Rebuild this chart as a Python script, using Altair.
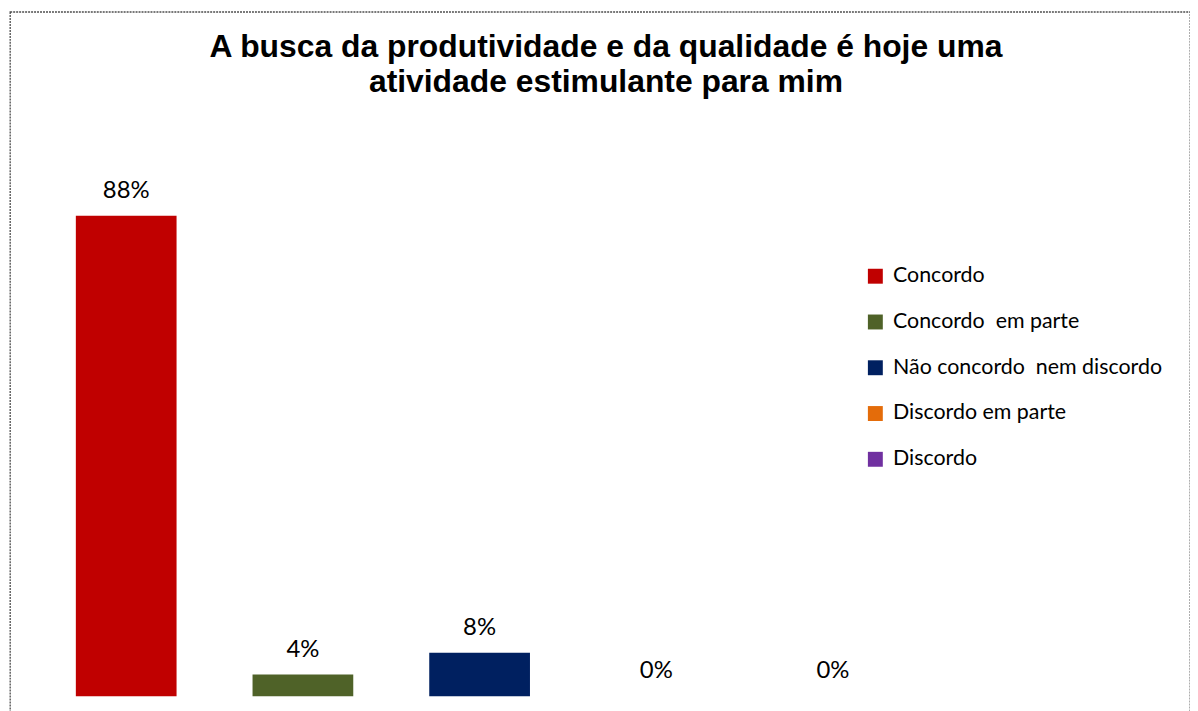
import altair as alt
import pandas as pd

categories = ["Concordo", "Concordo\u00a0 em parte", "Não concordo\u00a0 nem discordo", "Discordo em parte", "Discordo"]
values = [88, 4, 8, 0, 0]
colors = ["#C00000", "#4F6228", "#002060", "#E46C0A", "#7030A0"]
title_lines = ["A busca da produtividade e da qualidade é hoje uma", "atividade estimulante para mim"]

df = pd.DataFrame({"cat": categories, "value": values})

W = 1186
H = 720

xscale = alt.Scale(domain=categories, range=[28, 916], paddingInner=0.43, paddingOuter=0.215)
yscale = alt.Scale(domain=[0, 100], range=[688, 139])

base = alt.Chart(df).transform_calculate(label="datum.value + '%'")

bars = base.mark_bar().encode(
    x=alt.X("cat:N", sort=categories, scale=xscale, axis=None),
    y=alt.Y("value:Q", scale=yscale, axis=None),
    color=alt.Color(
        "cat:N",
        sort=categories,
        scale=alt.Scale(domain=categories, range=colors),
        legend=alt.Legend(
            title=None,
            orient="none",
            legendX=859,
            legendY=255,
            symbolType="square",
            symbolSize=225,
            symbolStrokeWidth=0,
            labelFont="Lato",
            labelFontSize=21.5,
            labelColor="#000000",
            labelOffset=7,
            rowPadding=23,
            padding=0,
            labelLimit=400,
        ),
    ),
)

labels = base.mark_text(font="Lato", fontSize=24, color="#000000", baseline="alphabetic", dy=-18).encode(
    x=alt.X("cat:N", sort=categories, scale=xscale, axis=None),
    y=alt.Y("value:Q", scale=yscale, axis=None),
    text="label:N",
)

chart = (
    alt.layer(bars, labels)
    .properties(
        width=W,
        height=H,
        autosize=alt.AutoSizeParams(type="none"),
        padding={"left": 2, "top": 2, "right": 0, "bottom": 0},
        title=alt.TitleParams(
            text=title_lines,
            font="Liberation Sans",
            fontSize=32,
            fontWeight="bold",
            color="#000000",
            anchor="middle",
            frame="group",
            offset=-88,
            lineHeight=36,
            dx=6,
        ),
    )
    .configure_view(stroke="#4d4d4d", strokeWidth=1.3, strokeDash=[2, 1])
)

chart.save("out.html", embed_options={"renderer": "svg", "actions": False})
